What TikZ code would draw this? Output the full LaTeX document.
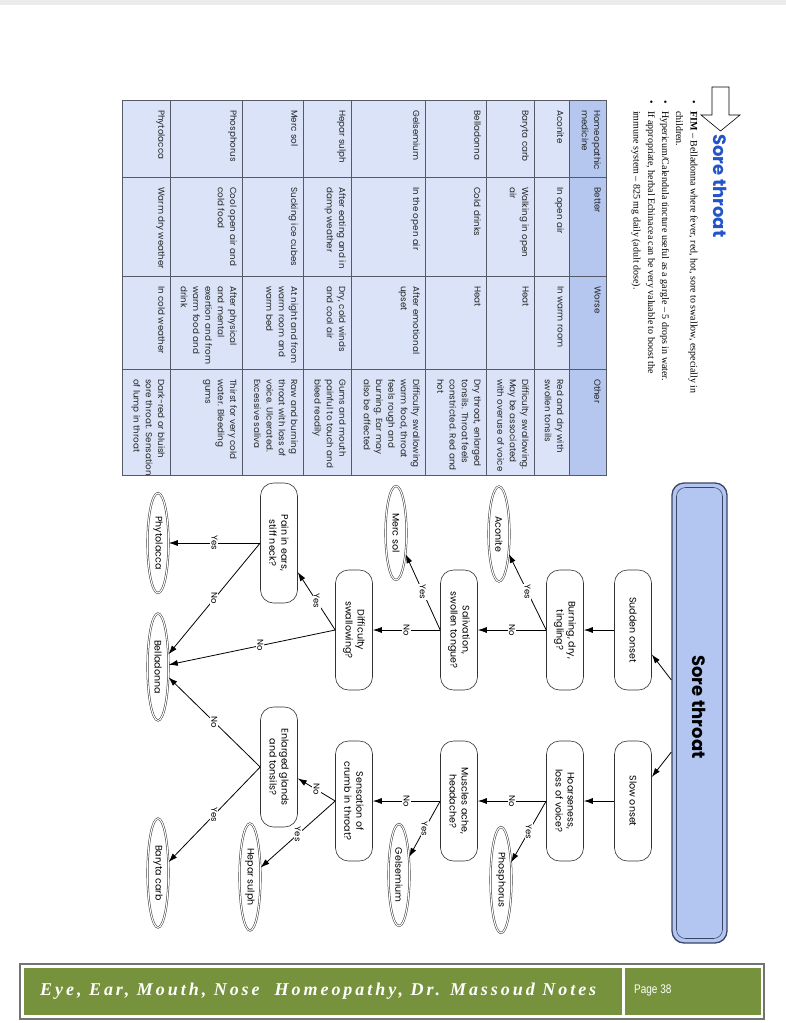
\documentclass[tikz,border=0pt]{standalone}
\usepackage{fontspec}
\setmainfont{Liberation Serif}
\newfontfamily\fc{Poppins}
\newfontfamily\tms{Liberation Serif}
\newfontfamily\footfont[LetterSpace=16.5]{Liberation Serif}
\newfontfamily\pagefont[FakeStretch=0.8]{Liberation Sans}
\usetikzlibrary{shapes.geometric,arrows.meta}
\definecolor{boxblue}{HTML}{B3C6F2}
\definecolor{boxedge}{HTML}{3A4566}
\definecolor{titleblue}{HTML}{2455C8}
\definecolor{thead}{HTML}{B5C7EF}
\definecolor{tbody}{HTML}{DAE3F7}
\definecolor{tline}{HTML}{555A66}
\definecolor{footgreen}{HTML}{76923C}
\begin{document}
\begin{tikzpicture}[x=1pt,y=-1pt,
  rot/.style={rotate=-90},
  qbox/.style={rot, draw=black!80, line width=0.6pt, rounded corners=13pt,
    minimum width=120pt, minimum height=37pt, align=center, inner sep=1pt,
    fill=white, font=\fc\fontsize{9.5}{12}\selectfont},
  leaf/.style={rot, ellipse, draw=black!80, double, double distance=1.1pt,
    line width=0.5pt, minimum width=#1, minimum height=21pt, inner sep=0pt,
    font=\fc\fontsize{9.5}{11}\selectfont},
  arr/.style={draw=black, line width=0.8pt, -{Latex[length=9pt,width=6pt]}},
  lab/.style={rot, fill=white, inner sep=1pt, font=\fc\fontsize{8.5}{9}\selectfont},
  cell/.style={rot, anchor=north west, align=left, inner sep=0pt, text=black!85,
    font=\fc\fontsize{8.8}{12.3}\selectfont},
  bl/.style={rot, anchor=base west, inner sep=0pt, font=\tms\fontsize{10}{12}\selectfont}
]
\useasboundingbox (0,0) rectangle (786,1023);
\fill[white] (0,0) rectangle (786,1023);
\fill[black!8] (0,0) rectangle (786,5);

% ---------- heading ----------
\draw[line width=0.6pt, fill=white] (712,87) -- (729,87) -- (729,115) -- (740,115)
  -- (720.5,131) -- (701,115) -- (712,115) -- cycle;
\node[rot, anchor=west, inner sep=0pt, text=titleblue,
  font=\fc\bfseries\fontsize{18}{20}\selectfont] (title) at (720,134) {Sore throat};

\node[bl] (d1) at (690.5,100) {•};
\node[bl] (d2) at (662,100) {•};
\node[bl] (d3) at (648,100) {•};
\node[bl] (l1) at (690.5,111) {\textbf{FIM} – Belladonna where fever, red, hot, sore to swallow, especially in};
\node[bl] (l2) at (676,111) {children.};
\node[bl] (l3) at (662,111) {Hypericum/Calendula tincture useful as a gargle – 5 drops in water.};
\node[bl] (l4) at (648,111) {If appropriate, herbal Echinacea can be very valuable to boost the};
\node[bl] (l5) at (633.5,111) {immune system – 825 mg daily (adult dose).};

% ---------- table ----------
\fill[tbody] (122,100) rectangle (569,475);
\fill[thead] (569,100) rectangle (606,475);
\foreach \x in {170,242,303,351,425,486,534,569}
  \draw[tline, line width=0.7pt] (\x,100) -- (\x,475);
\foreach \y in {177,276,369}
  \draw[tline, line width=0.7pt] (122,\y) -- (606,\y);
\draw[tline, line width=0.9pt] (122,100) rectangle (606,475);

\node[cell] (h1) at (601,110) {Homeopathic\\medicine};
\node[cell] (h2) at (601,187) {Better};
\node[cell] (h3) at (601,286) {Worse};
\node[cell] (h4) at (601,379) {Other};

\node[cell] (a1) at (564,110) {Aconite};
\node[cell] (a2) at (564,187) {In open air};
\node[cell] (a3) at (564,286) {In warm room};
\node[cell] (a4) at (564,379) {Red and dry with\\swollen tonsils};

\node[cell] (b1) at (529,110) {Baryta carb};
\node[cell] (b2) at (529,187) {Walking in open\\air};
\node[cell] (b3) at (529,286) {Heat};
\node[cell] (b4) at (529,379) {Difficulty swallowing.\\May be associated\\with overuse of voice};

\node[cell] (c1) at (481,110) {Belladonna};
\node[cell] (c2) at (481,187) {Cold drinks};
\node[cell] (c3) at (481,286) {Heat};
\node[cell] (c4) at (481,379) {Dry throat, enlarged\\tonsils. Throat feels\\constricted. Red and\\hot};

\node[cell] (e1) at (420,110) {Gelsemium};
\node[cell] (e2) at (420,187) {In the open air};
\node[cell] (e3) at (420,286) {After emotional\\upset};
\node[cell] (e4) at (420,379) {Difficulty swallowing\\warm food, throat\\feels rough and\\burning. Ear may\\also be affected};

\node[cell] (f1) at (346,110) {Hepar sulph};
\node[cell] (f2) at (346,187) {After eating and in\\damp weather};
\node[cell] (f3) at (346,286) {Dry, cold winds\\and cool air};
\node[cell] (f4) at (346,379) {Gums and mouth\\painful to touch and\\bleed readily};

\node[cell] (g1) at (298,110) {Merc sol};
\node[cell] (g2) at (298,187) {Sucking ice cubes};
\node[cell] (g3) at (298,286) {At night and from\\warm room and\\warm bed};
\node[cell] (g4) at (298,379) {Raw and burning\\throat with loss of\\voice. Ulcerated.\\Excessive saliva};

\node[cell] (p1) at (237,110) {Phosphorus};
\node[cell] (p2) at (237,187) {Cool open air and\\cold food};
\node[cell] (p3) at (237,286) {After physical\\and mental\\exertion and from\\warm food and\\drink};
\node[cell] (p4) at (237,379) {Thirst for very cold\\water. Bleeding\\gums};

\node[cell] (y1) at (165,110) {Phytolacca};
\node[cell] (y2) at (165,187) {Warm dry weather};
\node[cell] (y3) at (165,286) {In cold weather};
\node[cell] (y4) at (165,379) {Dark-red or bluish\\sore throat. Sensation\\of lump in throat};

% ---------- flowchart ----------
\node[rot, draw=boxedge, line width=1.3pt, fill=boxblue, rounded corners=12pt,
  minimum width=460pt, minimum height=55pt] (st) at (699.5,713) {};
\node[rot, draw=boxedge, line width=0.6pt, rounded corners=9pt,
  minimum width=451pt, minimum height=46pt] (sti) at (699.5,713) {};
\node[rot, inner sep=0pt, font=\fc\bfseries\fontsize{18}{20}\selectfont]
  (stt) at (699.5,707) {Sore throat};
\coordinate (st1) at ([yshift=33pt]st.south);
\coordinate (st2) at ([yshift=-39pt]st.south);

\node[qbox] (sudden) at (633,630) {Sudden onset};
\node[qbox] (slow) at (633,801) {Slow onset};
\node[qbox] (burning) at (565,630) {Burning, dry,\\tingling?};
\node[qbox] (hoarse) at (565,801) {Hoarseness,\\loss of voice?};
\node[qbox] (saliv) at (459,630) {Salivation,\\swollen tongue?};
\node[qbox] (muscles) at (459,801) {Muscles ache,\\headache?};
\node[qbox] (diffic) at (354,630) {Difficulty\\swallowing?};
\node[qbox] (sensation) at (354,801) {Sensation of\\crumb in throat?};
\node[qbox] (pain) at (279,543) {Pain in ears,\\stiff neck?};
\node[qbox] (enlarged) at (279,767) {Enlarged glands\\and tonsils?};

\node[leaf=95pt] (aconite) at (499,534) {Aconite};
\node[leaf=106pt] (phosph) at (501,880) {Phosphorus};
\node[leaf=94pt] (mercsol) at (396,533) {Merc sol};
\node[leaf=102pt] (gelsem) at (399,875) {Gelsemium};
\node[leaf=100pt] (phyto) at (158,543) {Phytolacca};
\node[leaf=107pt] (bellad) at (158,667) {Belladonna};
\node[leaf=109pt] (baryta) at (158,873) {Baryta carb};
\node[leaf=107pt] (hepar) at (250,877) {Hepar sulph};

\draw[arr] (st1) -- (sudden);
\draw[arr] (st2) -- (slow);
\draw[arr] (sudden.south) -- (burning.north);
\draw[arr] (slow.south) -- (hoarse.north);
\draw[arr] (burning.south) -- node[lab] (n1) {Yes} (aconite);
\draw[arr] (burning.south) -- node[lab] (n2) {No} (saliv.north);
\draw[arr] (hoarse.south) -- node[lab] (n3) {Yes} (phosph);
\draw[arr] (hoarse.south) -- node[lab] (n4) {No} (muscles.north);
\draw[arr] (saliv.south) -- node[lab] (n5) {Yes} (mercsol);
\draw[arr] (saliv.south) -- node[lab] (n6) {No} (diffic.north);
\draw[arr] (muscles.south) -- node[lab] (n7) {Yes} (gelsem);
\draw[arr] (muscles.south) -- node[lab] (n8) {No} (sensation.north);
\draw[arr] (diffic.south) -- node[lab] (n9) {Yes} (pain);
\draw[arr] (diffic.south) -- node[lab, pos=0.45] (n10) {No} (bellad);
\draw[arr] (pain.south) -- node[lab] (n11) {Yes} (phyto);
\draw[arr] (pain.south) -- node[lab] (n12) {No} (bellad);
\draw[arr] (sensation.south) -- node[lab] (n13) {No} (enlarged);
\draw[arr] (sensation.south) -- node[lab] (n14) {Yes} (hepar);
\draw[arr] (enlarged.south) -- node[lab] (n15) {No} (bellad);
\draw[arr] (enlarged.south) -- node[lab] (n16) {Yes} (baryta);

% ---------- footer ----------
\draw[draw=black!55, line width=1.2pt, fill=white] (20,964) rectangle (764,1019);
\fill[footgreen] (24,968) rectangle (760.5,1015);
\draw[white, line width=2.2pt] (623.5,968) -- (623.5,1015);
\node[anchor=west, inner sep=0pt, text=white,
  font=\footfont\bfseries\itshape\fontsize{18}{20}\selectfont] (foot) at (40,991.5)
  {Eye, Ear, Mouth, Nose\ \ Homeopathy, Dr. Massoud Notes};
\node[anchor=west, inner sep=0pt, text=white,
  font=\pagefont\fontsize{12.5}{14}\selectfont] (page) at (634,990.5) {Page 38};
\end{tikzpicture}
\end{document}
